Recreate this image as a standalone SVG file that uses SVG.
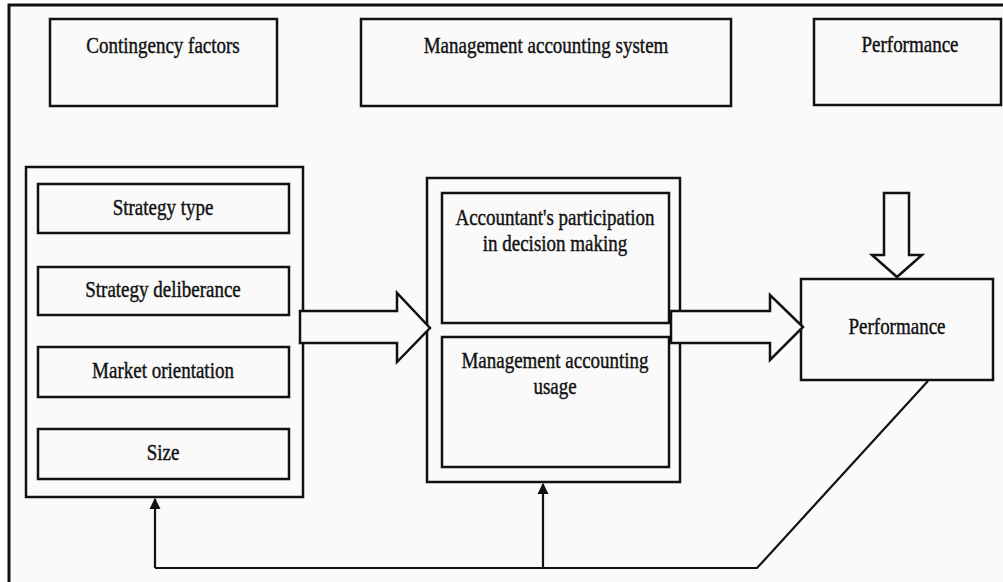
<svg xmlns="http://www.w3.org/2000/svg" width="1003" height="582" viewBox="0 0 1003 582">
  <style>
    .box { fill: none; stroke: #111; stroke-width: 2.5; }
    .fat { fill: #fafafa; stroke: #111; stroke-width: 2.5; stroke-linejoin: miter; }
    .line { fill: none; stroke: #111; stroke-width: 2.2; }
    .lbl { font-family: "Liberation Serif", "Times New Roman", serif; font-size: 19px; fill: #111; stroke: #111; stroke-width: 0.35; text-anchor: middle; }
  </style>
  <defs>
    <marker id="head" viewBox="0 0 10 10" refX="9" refY="5" markerWidth="5" markerHeight="6" orient="auto" markerUnits="strokeWidth">
      <path d="M0,0 L10,5 L0,10 z" fill="#111"/>
    </marker>
  </defs>

  <!-- page background and frame -->
  <rect x="0" y="0" width="1003" height="582" fill="#ffffff"/>
  <rect x="9" y="5" width="994" height="577" fill="#fafafa"/>
  <path d="M9,582 V5 H1003" fill="none" stroke="#111" stroke-width="3"/>

  <!-- column headings -->
  <g id="head-contingency">
    <rect class="box" x="50" y="19" width="227" height="87"/>
    <text class="lbl" transform="translate(163,53) scale(1,1.18)">Contingency factors</text>
  </g>
  <g id="head-mas">
    <rect class="box" x="361" y="19" width="370" height="87"/>
    <text class="lbl" transform="translate(546,53) scale(1,1.18)">Management accounting system</text>
  </g>
  <g id="head-performance">
    <rect class="box" x="814" y="19" width="187" height="86"/>
    <text class="lbl" transform="translate(910,52) scale(1,1.18)">Performance</text>
  </g>

  <!-- contingency factors group -->
  <g id="contingency">
    <rect class="box" x="26" y="167" width="277" height="330"/>
    <g id="strategy-type">
      <rect class="box" x="38" y="184" width="251" height="49"/>
      <text class="lbl" transform="translate(163,215) scale(1,1.18)">Strategy type</text>
    </g>
    <g id="strategy-deliberance">
      <rect class="box" x="38" y="267" width="251" height="48"/>
      <text class="lbl" transform="translate(163,297) scale(1,1.18)">Strategy deliberance</text>
    </g>
    <g id="market-orientation">
      <rect class="box" x="38" y="347" width="251" height="50"/>
      <text class="lbl" transform="translate(163,378) scale(1,1.18)">Market orientation</text>
    </g>
    <g id="size">
      <rect class="box" x="38" y="429" width="251" height="50"/>
      <text class="lbl" transform="translate(163,460) scale(1,1.18)">Size</text>
    </g>
  </g>

  <!-- management accounting system group -->
  <g id="mas">
    <rect class="box" x="427" y="178" width="253" height="304"/>
    <g id="participation">
      <rect class="box" x="442" y="193" width="227" height="130"/>
      <text class="lbl" transform="translate(555,225) scale(1,1.18)">Accountant's participation</text>
      <text class="lbl" transform="translate(555,251) scale(1,1.18)">in decision making</text>
    </g>
    <g id="usage">
      <rect class="box" x="442" y="337" width="227" height="130"/>
      <text class="lbl" transform="translate(555,368) scale(1,1.18)">Management accounting</text>
      <text class="lbl" transform="translate(555,394) scale(1,1.18)">usage</text>
    </g>
  </g>

  <!-- performance -->
  <g id="performance">
    <rect class="box" x="801" y="279" width="192" height="101"/>
    <text class="lbl" transform="translate(897,334) scale(1,1.18)">Performance</text>
  </g>

  <!-- connectors -->
  <g id="connectors">
    <path id="arrow-cf-mas" class="fat" d="M300,311 H397 V293 L430,328 L397,362 V343 H300 Z"/>
    <path id="arrow-mas-perf" class="fat" d="M671,311 H770 V295 L803,327 L770,360 V343 H671 Z"/>
    <path id="arrow-into-perf" class="fat" d="M884,193 H909 V255 H922 L897,277 L872,255 H884 Z"/>
    <path id="feedback" class="line" d="M928,381 L757,568 H155"/>
    <line class="line" x1="155" y1="568" x2="155" y2="499" marker-end="url(#head)"/>
    <line class="line" x1="543" y1="568" x2="543" y2="484" marker-end="url(#head)"/>
  </g>
</svg>
